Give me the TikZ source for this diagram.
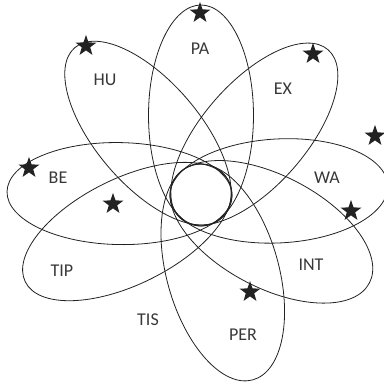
\documentclass[tikz,border=0pt]{standalone}
\usepackage{fontspec}
\setmainfont{Carlito}
\usetikzlibrary{shapes.geometric}
\definecolor{ink}{HTML}{222222}
\tikzset{
  petal/.style={draw=ink, line width=0.8pt},
  lbl/.style={text=ink!90, font=\fontsize{18}{21}\selectfont, inner sep=0pt},
  mystar/.style={star, star points=5, star point ratio=2.5, fill=ink, draw=none, minimum size=22pt, inner sep=0pt}
}
\newcommand\petal[3]{\draw[petal, shift={(201,189)}, rotate=#1] ({#2-31},0) ellipse [x radius=#2, y radius=#3];}
\begin{document}
\begin{tikzpicture}[x=1pt,y=1pt]
\useasboundingbox (0,0) rectangle (384,384);
\clip (0,0) rectangle (384,384);
\petal{90}{110.5}{52.5}
\petal{48.8}{112}{52}
\petal{130.6}{112.5}{52}
\petal{179}{112.5}{51}
\petal{3}{109}{52}
\petal{206.3}{113.5}{53}
\petal{-27.6}{110.5}{56}
\petal{-74.3}{111.5}{56}
\draw[petal] (201,189) circle (31);
% gap in PER outline
\fill[white] (177,90) circle (4.5);
\node[lbl] (pa) at (200,335) {PA};
\node[lbl] (ex) at (283,295) {EX};
\node[lbl] (wa) at (327,206) {WA};
\node[lbl] (int) at (311,119) {INT};
\node[lbl] (per) at (243,49) {PER};
\node[lbl] (tis) at (148,64) {TIS};
\node[lbl] (tip) at (62,113) {TIP};
\node[lbl] (be) at (58,206) {BE};
\node[lbl] (hu) at (105,304) {HU};
\node[mystar] (s1) at (86,338) {};
\node[mystar] (s2) at (200,371) {};
\node[mystar] (s3) at (313,330) {};
\node[mystar] (s4) at (375,248) {};
\node[mystar] (s5) at (29,216) {};
\node[mystar] (s6) at (113,180) {};
\node[mystar] (s7) at (351,173) {};
\node[mystar] (s8) at (250,92) {};
\end{tikzpicture}
\end{document}
